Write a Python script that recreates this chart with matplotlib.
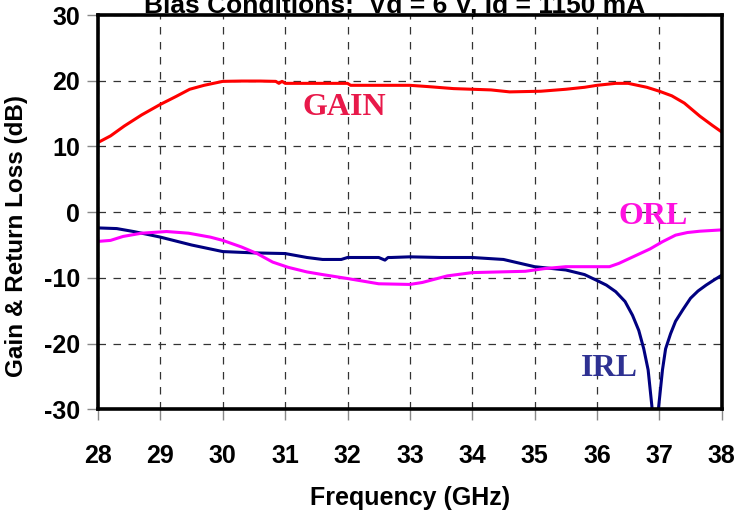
import numpy as np
import matplotlib
matplotlib.use('Agg')
import matplotlib.pyplot as plt

plt.rcParams['axes.unicode_minus'] = False

# Gain (red)
gain_f = [28.0, 28.2, 28.42, 28.7, 29.0, 29.25, 29.47, 29.7, 30.0, 30.3, 30.6, 30.85, 30.9, 30.95, 31.0,
          31.5, 32.0, 32.05, 32.5, 33.0, 33.3, 33.7, 34.0, 34.3, 34.6, 35.1, 35.5, 35.8, 36.0, 36.3,
          36.5, 36.8, 37.0, 37.2, 37.4, 37.65, 37.85, 38.0]
gain_db = [10.6, 11.6, 13.1, 14.8, 16.4, 17.6, 18.7, 19.3, 19.9, 19.95, 19.95, 19.9, 19.6, 19.9, 19.6,
           19.6, 19.6, 19.3, 19.3, 19.3, 19.1, 18.8, 18.7, 18.6, 18.3, 18.4, 18.7, 19.0, 19.3, 19.6,
           19.6, 19.0, 18.4, 17.7, 16.6, 14.6, 13.2, 12.2]

# Input return loss (navy)
irl_f = [28.0, 28.3, 28.57, 28.8, 29.0, 29.25, 29.5, 29.75, 30.0, 30.5, 31.0, 31.35, 31.6, 31.9, 32.0,
         32.5, 32.6, 32.65, 32.7, 33.0, 33.5, 34.0, 34.5, 35.0, 35.5, 35.8, 36.0, 36.15, 36.3, 36.45,
         36.57, 36.67, 36.75, 36.82, 36.88, 36.93, 36.99, 37.05, 37.1, 37.18, 37.26, 37.38, 37.5,
         37.62, 37.75, 37.88, 38.0]
irl_db = [-2.4, -2.5, -2.95, -3.4, -3.8, -4.4, -5.0, -5.5, -6.0, -6.2, -6.3, -6.9, -7.2, -7.2, -6.9,
          -6.9, -7.3, -6.9, -6.9, -6.8, -6.9, -6.9, -7.2, -8.3, -8.8, -9.5, -10.4, -11.1, -12.1, -13.6,
          -15.7, -18.0, -20.8, -24.0, -29.5, -36.0, -29.5, -24.0, -20.8, -18.5, -16.6, -14.8, -13.1,
          -12.0, -11.1, -10.3, -9.6]

# Output return loss (magenta)
orl_f = [28.0, 28.2, 28.4, 28.7, 29.1, 29.45, 29.8, 30.0, 30.3, 30.55, 30.8, 31.05, 31.35, 31.6, 32.0,
         32.5, 33.0, 33.2, 33.6, 34.0, 34.85, 35.15, 35.5, 36.2, 36.35, 36.6, 36.85, 37.05, 37.26,
         37.45, 37.65, 38.0]
orl_db = [-4.45, -4.3, -3.7, -3.2, -2.95, -3.2, -3.8, -4.3, -5.3, -6.3, -7.6, -8.4, -9.1, -9.5, -10.1,
          -10.9, -11.0, -10.7, -9.7, -9.2, -9.0, -8.6, -8.3, -8.3, -7.8, -6.7, -5.6, -4.5, -3.5,
          -3.1, -2.9, -2.7]

x_ticks = list(range(28, 39))
y_ticks = list(range(-30, 31, 10))

fig = plt.figure(figsize=(7.36, 5.12), dpi=100)
ax = fig.add_axes([0.1332, 0.2006, 0.8474, 0.7701])

ax.plot(gain_f, gain_db, color='#ff0000', lw=2.2, zorder=3)
ax.plot(irl_f, irl_db, color='#000080', lw=2.2, zorder=3)
ax.plot(orl_f, orl_db, color='#ff00ff', lw=2.2, zorder=3)

ax.set_xlim(28, 38)
ax.set_ylim(-30, 30)
ax.set_xticks(x_ticks)
ax.set_yticks(y_ticks)
ax.grid(True, color='#333333', ls=(0, (6, 6)), lw=0.9)

for s in ax.spines.values():
    s.set_linewidth(2.6)
    s.set_zorder(4)
ax.tick_params(direction='out', length=8, width=1, color='#888888', labelsize=18)
ax.tick_params(axis='x', pad=17)
ax.tick_params(axis='y', pad=5)
for lab in ax.get_xticklabels() + ax.get_yticklabels():
    lab.set_fontweight('bold')
    lab.set_fontfamily('Liberation Sans')

fig.text(410 / 736, 1 - 505 / 512, 'Frequency (GHz)', ha='center', va='baseline',
         fontsize=18, fontweight='bold', family='Liberation Sans')
fig.text(17 / 736, 1 - 236 / 512, 'Gain & Return Loss (dB)', ha='center', va='center',
         rotation=90, fontsize=17.5, fontweight='bold', family='Liberation Sans')
fig.text(395 / 736, 1 - 13 / 512, 'Bias Conditions:  Vd = 6 V, Id = 1150 mA', ha='center',
         va='baseline', fontsize=19, fontweight='bold', family='Liberation Sans')

ax.text(31.95, 15.9, 'GAIN', color='#e8194a', fontsize=23, fontweight='bold', family='Liberation Serif',
        ha='center', va='center')
ax.text(36.9, -0.6, 'ORL', color='#ff10e0', fontsize=23, fontweight='bold', family='Liberation Serif',
        ha='center', va='center')
ax.text(36.2, -23.8, 'IRL', color='#2e3192', fontsize=23, fontweight='bold', family='Liberation Serif',
        ha='center', va='center')

fig.savefig('out.png', dpi=100)
